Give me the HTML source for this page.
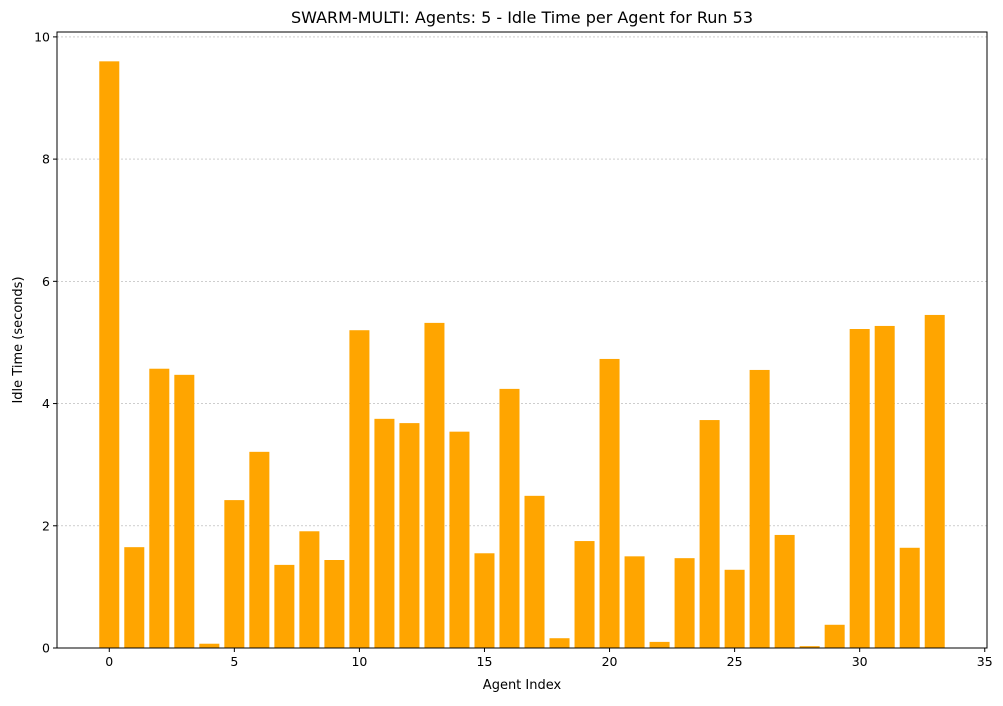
<!DOCTYPE html>
<html><head><meta charset="utf-8"><style>
body{margin:0;background:#fff;}
text{font-family:"DejaVu Sans","Liberation Sans",sans-serif;}
</style></head><body>
<svg id="chart" width="1003" height="701" xmlns="http://www.w3.org/2000/svg">
<rect width="1003" height="701" fill="#fff"/>
<g id="grid"></g><g id="bars"></g><g id="axes"></g>
<text x="522" y="23" text-anchor="middle" font-size="16">SWARM-MULTI: Agents: 5 - Idle Time per Agent for Run 53</text>
<text x="522" y="689" text-anchor="middle" font-size="13">Agent Index</text>
<text x="22" y="340" text-anchor="middle" font-size="13" transform="rotate(-90 22 340)">Idle Time (seconds)</text>
</svg>
<script>
const categories=[...Array(34).keys()];
const idleValues=[9.6,1.65,4.57,4.47,0.07,2.42,3.21,1.36,1.91,1.44,5.2,3.75,3.68,5.32,3.54,1.55,4.24,2.49,0.16,1.75,4.73,1.5,0.1,1.47,3.73,1.28,4.55,1.85,0.03,0.38,5.22,5.27,1.64,5.45];
const xTicks=[0,5,10,15,20,25,30,35];
const yTicks=[0,2,4,6,8,10];
const L=57,R=987,T=32,B=648;
const xMin=-0.4-0.05*33.8,xMax=33.4+0.05*33.8;
const yMax=Math.max(...idleValues)*1.05;
const xs=v=>L+(v-xMin)/(xMax-xMin)*(R-L);
const ys=v=>B-v/yMax*(B-T);
const NS="http://www.w3.org/2000/svg";
function mk(p,tag,at){const e=document.createElementNS(NS,tag);for(const k in at)e.setAttribute(k,at[k]);document.getElementById(p).appendChild(e);return e;}
yTicks.forEach(t=>{if(t===0)return;const l=mk('grid','line',{x1:L,x2:R,y1:ys(t),y2:ys(t),stroke:'#b0b0b0','stroke-width':0.6,'stroke-dasharray':'2,2'});

});
categories.forEach((c,i)=>{const r=mk('bars','rect',{x:xs(c-0.4),y:ys(idleValues[i]),width:xs(c+0.4)-xs(c-0.4),height:B-ys(idleValues[i]),fill:'#ffa500'});

});
const fr=mk('axes','rect',{x:L,y:T,width:R-L,height:B-T,fill:'none',stroke:'#000','stroke-width':1});


xTicks.forEach(t=>{mk('axes','line',{x1:xs(t),x2:xs(t),y1:B,y2:B+4,stroke:'#000'});
const tx=mk('axes','text',{x:xs(t),y:B+18,'text-anchor':'middle','font-size':12.5});tx.textContent=t;

});
yTicks.forEach(t=>{mk('axes','line',{x1:L-4,x2:L,y1:ys(t),y2:ys(t),stroke:'#000'});
const tx=mk('axes','text',{x:L-7,y:ys(t)+4.5,'text-anchor':'end','font-size':12.5});tx.textContent=t;

});
</script>
</body></html>
